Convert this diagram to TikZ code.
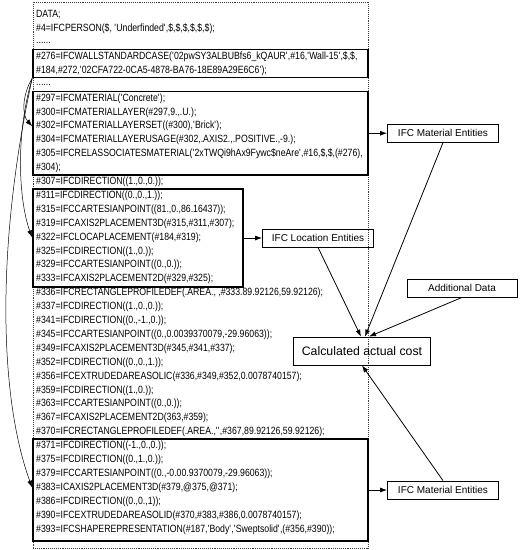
\documentclass[tikz,border=0pt]{standalone}
\usepackage{fontspec}
\setmainfont{Liberation Sans}
\newfontfamily\codefont{Liberation Sans}[FakeStretch=0.83]
\usetikzlibrary{arrows.meta}
\newcommand{\sq}{\textquotesingle}

\begin{document}
\begin{tikzpicture}[x=1pt,y=1pt,>={Latex[length=7pt,width=5pt]}]
\tikzstyle{every node}+=[inner sep=0pt]
\tikzstyle{code}=[anchor=west,font=\codefont\fontsize{10.5}{12}\selectfont]
\tikzstyle{grp}=[draw,line width=1.6pt,minimum width=335]
\tikzstyle{ent}=[draw,line width=0.8pt,minimum width=111,minimum height=18,font=\fontsize{10}{12}\selectfont]
\tikzstyle{link}=[->,line width=0.8pt]
\useasboundingbox (0,0) rectangle (522,-550);
\node [draw,black!75,densely dotted,line width=0.9pt,minimum width=335,minimum height=546] (file) at (200.5,-275) {};
\node [grp,minimum height=28] (wallbox) at (200.5,-63.5) {};
\node [grp,minimum height=83.5] (matbox) at (200.5,-133.25) {};
\node [grp,minimum width=210,minimum height=98] (locbox) at (138,-238) {};
\node [grp,minimum height=102] (solidbox) at (200.5,-490) {};
\node [code] (l0) at (36,-15) {DATA;};
\node [code] (l1) at (36,-28.9) {\#4=IFCPERSON(\$, \sq Underfinded\sq,\$,\$,\$,\$,\$,\$);};
\node [code] (l2) at (36,-42.8) {......};
\node [code] (l3) at (36,-56.7) {\#276=IFCWALLSTANDARDCASE(\sq 02pwSY3ALBUBfs6\_kQAUR\sq,\#16,\sq Wall-15\sq,\$,\$,};
\node [code] (l4) at (36,-70.6) {\#184,\#272,\sq 02CFA722-0CA5-4878-BA76-18E89A29E6C6\sq);};
\node [code] (l5) at (36,-84.5) {......};
\node [code] (l6) at (36,-98.4) {\#297=IFCMATERIAL(\sq Concrete\sq);};
\node [code] (l7) at (36,-112.3) {\#300=IFCMATERIALLAYER(\#297,9.,.U.);};
\node [code] (l8) at (36,-126.2) {\#302=IFCMATERIALLAYERSET((\#300),\sq Brick\sq);};
\node [code] (l9) at (36,-140.1) {\#304=IFCMATERIALLAYERUSAGE(\#302,.AXIS2.,.POSITIVE.,-9.);};
\node [code] (l10) at (36,-154.0) {\#305=IFCRELASSOCIATESMATERIAL(\sq 2xTWQi9hAx9Fywc\$neAre\sq,\#16,\$,\$,(\#276),};
\node [code] (l11) at (36,-167.9) {\#304);};
\node [code] (l12) at (36,-181.8) {\#307=IFCDIRECTION((1.,0.,0.));};
\node [code] (l13) at (36,-195.7) {\#311=IFCDIRECTION((0.,0.,1.));};
\node [code] (l14) at (36,-209.6) {\#315=IFCCARTESIANPOINT((81.,0.,86.16437));};
\node [code] (l15) at (36,-223.5) {\#319=IFCAXIS2PLACEMENT3D(\#315,\#311,\#307);};
\node [code] (l16) at (36,-237.4) {\#322=IFCLOCAPLACEMENT(\#184,\#319);};
\node [code] (l17) at (36,-251.3) {\#325=IFCDIRECTION((1.,0.));};
\node [code] (l18) at (36,-265.2) {\#329=IFCCARTESIANPOINT((0.,0.));};
\node [code] (l19) at (36,-279.1) {\#333=IFCAXIS2PLACEMENT2D(\#329,\#325);};
\node [code] (l20) at (36,-293.0) {\#336=IFCRECTANGLEPROFILEDEF(.AREA., ,\#333.89.92126,59.92126);};
\node [code] (l21) at (36,-306.9) {\#337=IFCDIRECTION((1.,0.,0.));};
\node [code] (l22) at (36,-320.8) {\#341=IFCDIRECTION((0.,-1.,0.));};
\node [code] (l23) at (36,-334.7) {\#345=IFCCARTESIANPOINT((0.,0.0039370079,-29.96063));};
\node [code] (l24) at (36,-348.6) {\#349=IFCAXIS2PLACEMENT3D(\#345,\#341,\#337);};
\node [code] (l25) at (36,-362.5) {\#352=IFCDIRECTION((0.,0.,1.));};
\node [code] (l26) at (36,-376.4) {\#356=IFCEXTRUDEDAREASOLIC(\#336,\#349,\#352,0.0078740157);};
\node [code] (l27) at (36,-390.3) {\#359=IFCDIRECTION((1.,0.));};
\node [code] (l28) at (36,-404.2) {\#363=IFCCARTESIANPOINT((0.,0.));};
\node [code] (l29) at (36,-418.1) {\#367=IFCAXIS2PLACEMENT2D(363,\#359);};
\node [code] (l30) at (36,-432.0) {\#370=IFCRECTANGLEPROFILEDEF(.AREA.,\sq\sq,\#367,89.92126,59.92126);};
\node [code] (l31) at (36,-445.9) {\#371=IFCDIRECTION((-1.,0.,0.));};
\node [code] (l32) at (36,-459.8) {\#375=IFCDIRECTION((0.,1.,0.));};
\node [code] (l33) at (36,-473.7) {\#379=IFCCARTESIANPOINT((0.,-0.00.9370079,-29.96063));};
\node [code] (l34) at (36,-487.6) {\#383=ICAXIS2PLACEMENT3D(\#379,@375,@371);};
\node [code] (l35) at (36,-501.5) {\#386=IFCDIRECTION((0.,0.,1));};
\node [code] (l36) at (36,-515.4) {\#390=IFCEXTRUDEDAREASOLID(\#370,\#383,\#386,0.0078740157);};
\node [code] (l37) at (36,-529.3) {\#393=IFCSHAPEREPRESENTATION(\#187,\sq Body\sq,\sq Sweptsolid\sq,(\#356,\#390));};
\node [ent] (matA) at (443,-133.25) {IFC Material Entities};
\node [ent] (loc) at (318,-238) {IFC Location Entities};
\node [ent,minimum width=110] (extra) at (462,-288) {Additional Data};
\node [ent,minimum width=137,minimum height=28,font=\fontsize{12.3}{14}\selectfont] (cost) at (362,-351) {Calculated actual cost};
\node [ent] (matB) at (443,-490) {IFC Material Entities};
\draw [link] (matbox.east) -- (matA.west);
\draw [link] (locbox.east) -- (loc.west);
\draw [link] (solidbox.east) -- (matB.west);
\draw [link] (loc.south) -- ([xshift=-1pt]cost.north);
\draw [link] (matA.south) -- ([xshift=3pt]cost.north);
\draw [link] (extra.south) -- ([xshift=7pt]cost.north);
\draw [link] (matB.north) -- (cost.south);
\draw [link,line width=0.5pt] (wallbox.south west) .. controls (22,-95) and (22,-115) .. (matbox.west |- l8);
\draw [link,line width=0.5pt] (wallbox.south west) .. controls (14,-140) and (20,-205) .. (locbox.west |- l16);
\draw [link,line width=0.5pt] (wallbox.south west) .. controls (-5,-250) and (0,-400) .. (solidbox.west |- l34);
\end{tikzpicture}
\end{document}
